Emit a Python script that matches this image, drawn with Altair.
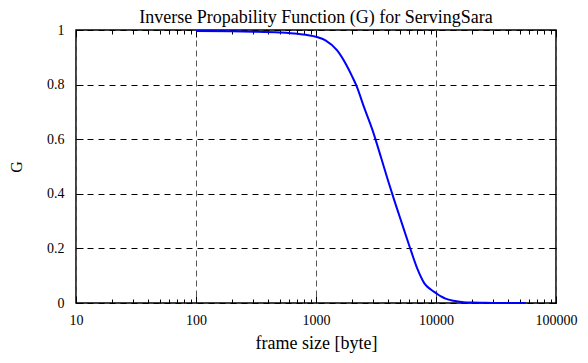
import altair as alt
import pandas as pd

# data
frame_size = [100, 200, 300, 500, 700, 1000, 1200, 1500, 1800, 2000, 2200, 2500,
              3000, 3500, 4000, 4500, 5000, 6000, 7000, 8000, 9000, 10000, 11000,
              12000, 14000, 17000, 20000, 25000, 30000, 40000, 56000]
g_value = [0.996, 0.995, 0.994, 0.991, 0.986, 0.975, 0.962, 0.925, 0.87, 0.83, 0.79, 0.72,
           0.625, 0.53, 0.446, 0.375, 0.314, 0.209, 0.125, 0.072, 0.05, 0.036, 0.024,
           0.016, 0.008, 0.003, 0.0015, 0.0007, 0.0003, 0.0001, 0.0]

x_major = [10, 100, 1000, 10000, 100000]
x_minor = [m * d for d in [10, 100, 1000, 10000] for m in range(2, 10)]
y_major = [0, 0.2, 0.4, 0.6, 0.8, 1.0]

df = pd.DataFrame({"size": frame_size, "G": g_value})

FONT = "Liberation Serif"
xscale = alt.Scale(type="log", domain=[10, 100000], nice=False)
yscale = alt.Scale(domain=[0, 1], nice=False)

def xax(**kw):
    base = dict(domain=False, labels=False, grid=False, title=None,
                tickColor="black", tickWidth=1)
    base.update(kw)
    return alt.Axis(**base)

def yax(**kw):
    base = dict(domain=False, labels=False, grid=False, title=None,
                tickColor="black", tickWidth=1)
    base.update(kw)
    return alt.Axis(**base)

base = alt.Chart(df)

main = base.mark_line(color="#0000ff", strokeWidth=2, interpolate="monotone").encode(
    x=alt.X("size:Q", scale=xscale,
            axis=xax(orient="bottom", values=x_major, format="d", labels=True,
                     labelFont=FONT, labelFontSize=14, labelColor="black",
                     labelPadding=10, labelFlush=False,
                     title="frame size [byte]", titleFont=FONT, titleFontSize=18,
                     titleFontWeight="normal", titleColor="black", titlePadding=7,
                     grid=True, gridColor="#555555", gridDash=[6, 4], gridWidth=1,
                     tickSize=7, offset=-7)),
    y=alt.Y("G:Q", scale=yscale,
            axis=yax(orient="left", values=y_major, format="~g", labels=True,
                     labelFont=FONT, labelFontSize=14, labelColor="black",
                     labelPadding=12,
                     title="G", titleFont=FONT, titleFontSize=16,
                     titleFontWeight="normal", titleColor="black", titlePadding=22,
                     grid=True, gridColor="black", gridDash=[6, 5], gridWidth=1,
                     tickSize=7, offset=-7)),
)

minor_bottom = base.mark_line(opacity=0).encode(
    x=alt.X("size:Q", scale=xscale,
            axis=xax(orient="bottom", values=x_minor, tickSize=4, offset=-4)),
    y=alt.Y("G:Q", scale=yscale, axis=None),
)

top_right = base.mark_line(opacity=0).encode(
    x=alt.X("size:Q", scale=xscale,
            axis=xax(orient="top", values=x_major, tickSize=7, offset=-7)),
    y=alt.Y("G:Q", scale=yscale,
            axis=yax(orient="right", values=y_major, tickSize=7, offset=-7)),
)

minor_top = base.mark_line(opacity=0).encode(
    x=alt.X("size:Q", scale=xscale,
            axis=xax(orient="top", values=x_minor, tickSize=4, offset=-4)),
    y=alt.Y("G:Q", scale=yscale, axis=None),
)

chart = alt.layer(main, minor_bottom, top_right, minor_top).resolve_axis(
    x="independent", y="independent"
).properties(
    width=480, height=273,
    title=alt.TitleParams("Inverse Propability Function (G) for ServingSara",
                          font=FONT, fontSize=18, fontWeight="normal",
                          color="black", offset=-4),
    autosize=alt.AutoSizeParams(type="none"),
    padding={"left": 68, "top": 22, "right": 24, "bottom": 50},
    background="white",
).configure_view(stroke="black", strokeWidth=1.5)

chart.save("out.html", embed_options={"renderer": "svg", "actions": False})
